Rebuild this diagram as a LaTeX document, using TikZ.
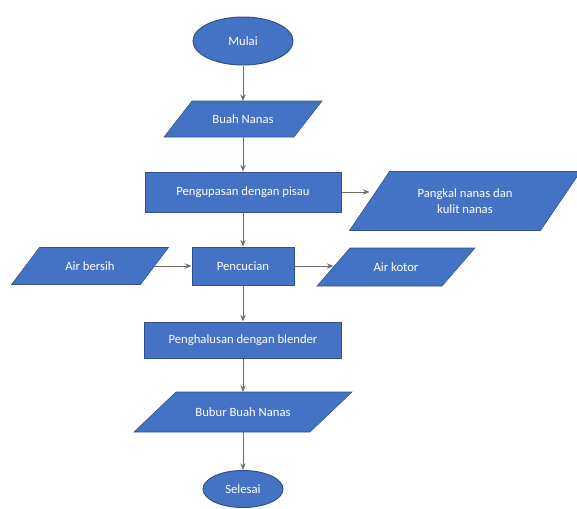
\documentclass[tikz,border=0pt]{standalone}
\usepackage{fontspec}
\setmainfont{Carlito}
\usetikzlibrary{shapes.geometric,arrows.meta,backgrounds}

\definecolor{boxfill}{RGB}{68,114,196}
\definecolor{boxline}{RGB}{47,82,143}
\definecolor{flowline}{RGB}{110,110,110}

\tikzset{every picture/.style={line width=0.75pt}}
\tikzset{
  startstop/.style={ellipse, draw=boxline, fill=boxfill, text=white, inner sep=0pt},
  process/.style={rectangle, draw=boxline, fill=boxfill, text=white, inner sep=0pt},
  io/.style={rectangle, text=white, inner sep=0pt, align=center},
  iobox/.style={draw=boxline, fill=boxfill},
  flow/.style={draw=flowline, -{Stealth[length=5pt,width=4pt]}}
}

\begin{document}
\begin{tikzpicture}[x=0.75pt,y=0.75pt,yscale=-1,xscale=1,font=\fontsize{9.5}{12}\selectfont]
\useasboundingbox (0,0) rectangle (577,508);
%Shape: Ellipse
\node [startstop, minimum width=75pt, minimum height=36pt] (mulai) at (243,41) {Mulai};
%Shape: Parallelogram
\node [io, minimum width=96.75pt, minimum height=26.25pt] (buah) at (243,119) {Buah Nanas};
%Shape: Rectangle
\node [process, minimum width=147pt, minimum height=30pt] (kupas) at (243,192) {Pengupasan dengan pisau};
%Shape: Parallelogram
\node [io, minimum width=142.5pt, minimum height=43.5pt] (pangkal) at (465,201) {Pangkal nanas dan\\kulit nanas};
%Shape: Parallelogram
\node [io, minimum width=96pt, minimum height=27pt] (bersih) at (90,266) {Air bersih};
%Shape: Rectangle
\node [process, minimum width=76.5pt, minimum height=28.5pt] (cuci) at (243,266) {Pencucian};
%Shape: Parallelogram
\node [io, minimum width=93pt, minimum height=27.75pt] (kotor) at (396,267) {Air kotor};
%Shape: Rectangle
\node [process, minimum width=147.75pt, minimum height=27pt] (halus) at (243,340) {Penghalusan dengan blender};
%Shape: Parallelogram
\node [io, minimum width=131.25pt, minimum height=29.25pt] (bubur) at (243,412) {Bubur Buah Nanas};
%Shape: Ellipse
\node [startstop, minimum width=60pt, minimum height=27.75pt] (selesai) at (243,489) {Selesai};

% parallelogram bodies behind the text
\begin{scope}[on background layer]
\foreach \n/\s in {buah/28,pangkal/40,bersih/28,kotor/33,bubur/42}
  \draw [iobox] ([xshift=\s*0.375pt]\n.north west) -- ([xshift=\s*0.375pt]\n.north east)
    -- ([xshift=-\s*0.375pt]\n.south east) -- ([xshift=-\s*0.375pt]\n.south west) -- cycle;
\end{scope}

%Straight Lines
\draw [flow] (mulai) -- (buah);
\draw [flow] (buah) -- (kupas);
\draw [flow] (kupas) -- (cuci);
\draw [flow] (kupas.east) -- (kupas.east -| pangkal.west);
\draw [flow] (bersih) -- (cuci);
\draw [flow] (cuci.east) -- (cuci.east -| kotor.west);
\draw [flow] (cuci) -- (halus);
\draw [flow] (halus) -- (bubur);
\draw [flow] (bubur) -- (selesai);
\end{tikzpicture}
\end{document}
